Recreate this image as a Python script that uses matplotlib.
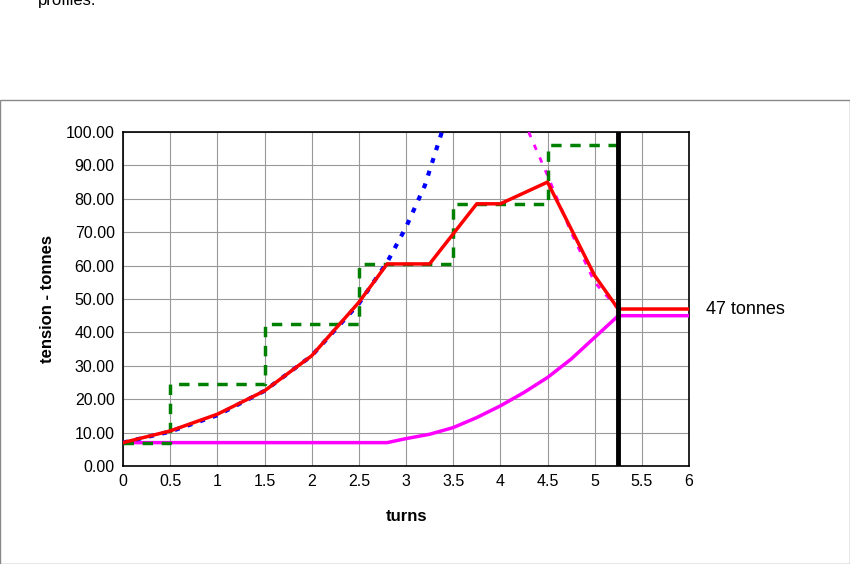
import matplotlib
matplotlib.use("Agg")
import matplotlib.pyplot as plt
from matplotlib.patches import Rectangle

plt.rcParams['font.family'] = ['Liberation Sans', 'DejaVu Sans']

blue_x = [0, 0.5, 1, 1.5, 2, 2.5, 2.8, 3, 3.2, 3.38]
blue_y = [7, 10.3, 15.2, 22.5, 33, 48.6, 61, 71.5, 84, 100]
green_x = [0, 0.5, 0.5, 1.5, 1.5, 2.5, 2.5, 3.5, 3.5, 4.5, 4.5, 5.25]
green_y = [7, 7, 24.5, 24.5, 42.5, 42.5, 60.5, 60.5, 78.5, 78.5, 96, 96]
red_x = [0, 0.5, 1, 1.5, 2, 2.5, 2.8, 3.25, 3.75, 4, 4.5, 5, 5.25, 6]
red_y = [7, 10.5, 15.5, 22.5, 33, 49, 60.5, 60.5, 78.5, 78.5, 85, 57, 47, 47]
mag_x = [0, 2.8, 3, 3.25, 3.5, 3.75, 4, 4.25, 4.5, 4.75, 5, 5.25, 6]
mag_y = [7, 7, 8.2, 9.5, 11.5, 14.5, 18, 22, 26.5, 32, 38.5, 45, 45]
magd_x = [4.3, 4.5, 4.75, 5, 5.25]
magd_y = [100, 87, 70, 55, 47]
limit_turn = 5.25

fig = plt.figure(figsize=(8.5, 5.64), dpi=100)
fig.patches.append(Rectangle((0.0, 0.0), 0.9995, 1 - 100/564, transform=fig.transFigure,
                             fill=False, edgecolor='#888888', linewidth=1))
fig.text(38/850, 1.0, "profiles.", fontsize=12, va='center', ha='left')
ax = fig.add_axes([123/850, 1 - 466/564, (689-123)/850, (466-132)/564])
ax.grid(True, color='#999999', linewidth=0.8)
ax.set_axisbelow(True)
ax.plot(mag_x, mag_y, color='#ff00ff', linewidth=2.5, zorder=3)
ax.plot(magd_x, magd_y, color='#ff00ff', linewidth=2, linestyle=(0, (2, 3)), zorder=3)
ax.plot(blue_x, blue_y, color='#0000ff', linewidth=3, linestyle=(0, (1.2, 2)), zorder=3)
ax.plot(green_x, green_y, color='#008000', linewidth=2.5, linestyle=(0, (3, 2.5)), zorder=3)
ax.plot(red_x, red_y, color='#ff0000', linewidth=2.5, zorder=4)
ax.axvline(limit_turn, color='black', linewidth=3.5, zorder=5)
ax.set_xlim(0, 6)
ax.set_ylim(0, 100)
ax.set_xticks([0, 0.5, 1, 1.5, 2, 2.5, 3, 3.5, 4, 4.5, 5, 5.5, 6])
ax.set_xticklabels(['0', '0.5', '1', '1.5', '2', '2.5', '3', '3.5', '4', '4.5', '5', '5.5', '6'])
ax.set_yticks(range(0, 101, 10))
ax.set_yticklabels([f"{v:.2f}" for v in range(0, 101, 10)])
ax.tick_params(labelsize=11.5, length=0, pad=6)
for s in ax.spines.values():
    s.set_linewidth(1.2)
ax.set_xlabel("turns", fontsize=12, fontweight='bold', labelpad=14)
ax.set_ylabel("tension - tonnes", fontsize=12, fontweight='bold', labelpad=8)
ax.text(6.18, 47, "47 tonnes", fontsize=13, va='center', ha='left', clip_on=False)
fig.savefig("out.png", dpi=100)
